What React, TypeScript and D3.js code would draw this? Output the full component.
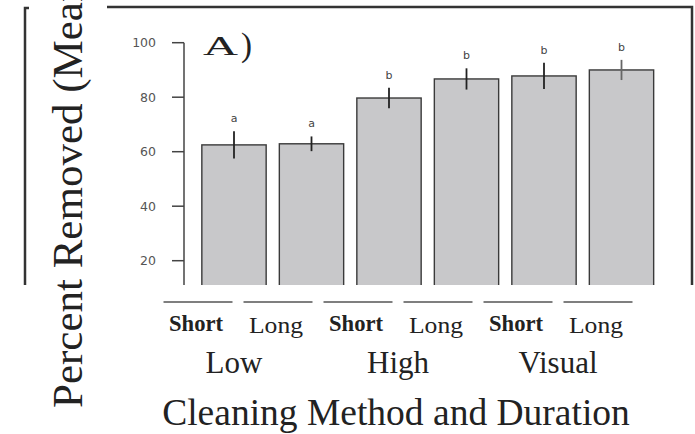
import React from "react";
import * as d3 from "d3";

const conditions = ["Low-Short", "Low-Long", "High-Short", "High-Long", "Visual-Short", "Visual-Long"];
const durations = ["Short", "Long", "Short", "Long", "Short", "Long"];
const methods = ["Low", "High", "Visual"];
const means = [62.5, 62.9, 79.7, 86.7, 87.8, 90.0];
const errors = [5.0, 2.7, 3.8, 3.9, 4.8, 3.7];
const letters = ["a", "a", "b", "b", "b", "b"];
const yTicks = [20, 40, 60, 80, 100];

const W = 695;
const H = 434;

export default function App() {
  const y = d3.scaleLinear().domain([0, 100]).range([315.2, 42.7]);
  const x = d3
    .scaleBand<string>()
    .domain(conditions)
    .range([195.25, 660.25])
    .paddingInner(0.17)
    .paddingOuter(0.085);
  const xl = d3
    .scaleBand<string>()
    .domain(conditions)
    .range([158, 638])
    .paddingInner(0.1375)
    .paddingOuter(0.06875);
  const clipBottom = 285;
  const serif = "'Liberation Serif', 'Times New Roman', serif";
  const sans = "'DejaVu Sans', Verdana, sans-serif";

  return (
    <svg
      width={W}
      height={H}
      viewBox={`0 0 ${W} ${H}`}
      style={{ position: "absolute", left: 0, top: 0, background: "#fff" }}
    >
      <defs>
        <clipPath id="plotclip">
          <rect x={0} y={0} width={W} height={clipBottom} />
        </clipPath>
      </defs>
      <rect x={0} y={0} width={W} height={H} fill="#fff" />

      {/* outer frame pieces */}
      <path d={`M25,${clipBottom} V8 H29`} fill="none" stroke="#333" strokeWidth={2.5} />
      <path d={`M107,7 H692 V${clipBottom}`} fill="none" stroke="#333" strokeWidth={2.5} />

      {/* y axis */}
      <line x1={184} x2={184} y1={y(100)} y2={clipBottom} stroke="#444" strokeWidth={1.5} />
      {yTicks.map((t) => (
        <g key={t}>
          <line x1={172} x2={184} y1={y(t)} y2={y(t)} stroke="#444" strokeWidth={1.5} />
          <text
            x={156}
            y={y(t)}
            dy="0.36em"
            textAnchor="end"
            fontFamily={sans}
            fontSize={12.5}
            fill="#555"
          >
            {t}
          </text>
        </g>
      ))}

      {/* bars */}
      <g clipPath="url(#plotclip)">
        {conditions.map((c, i) => (
          <rect
            key={c}
            x={x(c)!}
            y={y(means[i])}
            width={x.bandwidth()}
            height={y(0) - y(means[i])}
            fill="#c8c8ca"
            stroke="#3a3a3a"
            strokeWidth={1.4}
          />
        ))}
      </g>

      {/* error bars and letters */}
      {conditions.map((c, i) => {
        const cx = x(c)! + x.bandwidth() / 2;
        return (
          <g key={c}>
            <line
              x1={cx}
              x2={cx}
              y1={y(means[i] + errors[i])}
              y2={y(means[i] - errors[i])}
              stroke={i === 5 ? "#666" : "#222"}
              strokeWidth={1.8}
            />
            <text
              x={cx}
              y={y(means[i] + errors[i]) - 9}
              textAnchor="middle"
              fontFamily={sans}
              fontSize={11}
              fill="#444"
            >
              {letters[i]}
            </text>
          </g>
        );
      })}

      <text x={203} y={55} fontFamily={serif} fontSize={27} fill="#222" textLength={35} lengthAdjust="spacingAndGlyphs">
        A
      </text>
      <text x={241} y={56} fontFamily={serif} fontSize={33} fill="#222">
        )
      </text>

      {/* x label segments and duration labels */}
      {conditions.map((c, i) => {
        const x0 = xl(c)!;
        const cx = x0 + xl.bandwidth() / 2 - 2;
        const isShort = durations[i] === "Short";
        return (
          <g key={c}>
            <line x1={x0} x2={x0 + xl.bandwidth()} y1={302} y2={302} stroke="#555" strokeWidth={1.5} />
            <text
              x={cx}
              y={isShort ? 331 : 333}
              textAnchor="middle"
              fontFamily={serif}
              fontSize={24}
              fontWeight={isShort ? "bold" : "normal"}
              fill="#222"
              textLength={54}
              lengthAdjust="spacingAndGlyphs"
            >
              {durations[i]}
            </text>
          </g>
        );
      })}

      {methods.map((m, k) => {
        const a = xl(conditions[2 * k])!;
        const b = xl(conditions[2 * k + 1])! + xl.bandwidth();
        const cx = (a + b) / 2 - (k === 0 ? 4 : 0);
        return (
          <text key={m} x={cx} y={373} textAnchor="middle" fontFamily={serif} fontSize={31} fill="#222">
            {m}
          </text>
        );
      })}

      <text x={396} y={425} textAnchor="middle" fontFamily={serif} fontSize={37.5} fill="#222">
        Cleaning Method and Duration
      </text>

      <text
        transform="translate(82,408) rotate(-90)"
        textAnchor="start"
        fontFamily={serif}
        fontSize={43}
        fill="#222"
      >
        Percent Removed (Mean)
      </text>
    </svg>
  );
}
